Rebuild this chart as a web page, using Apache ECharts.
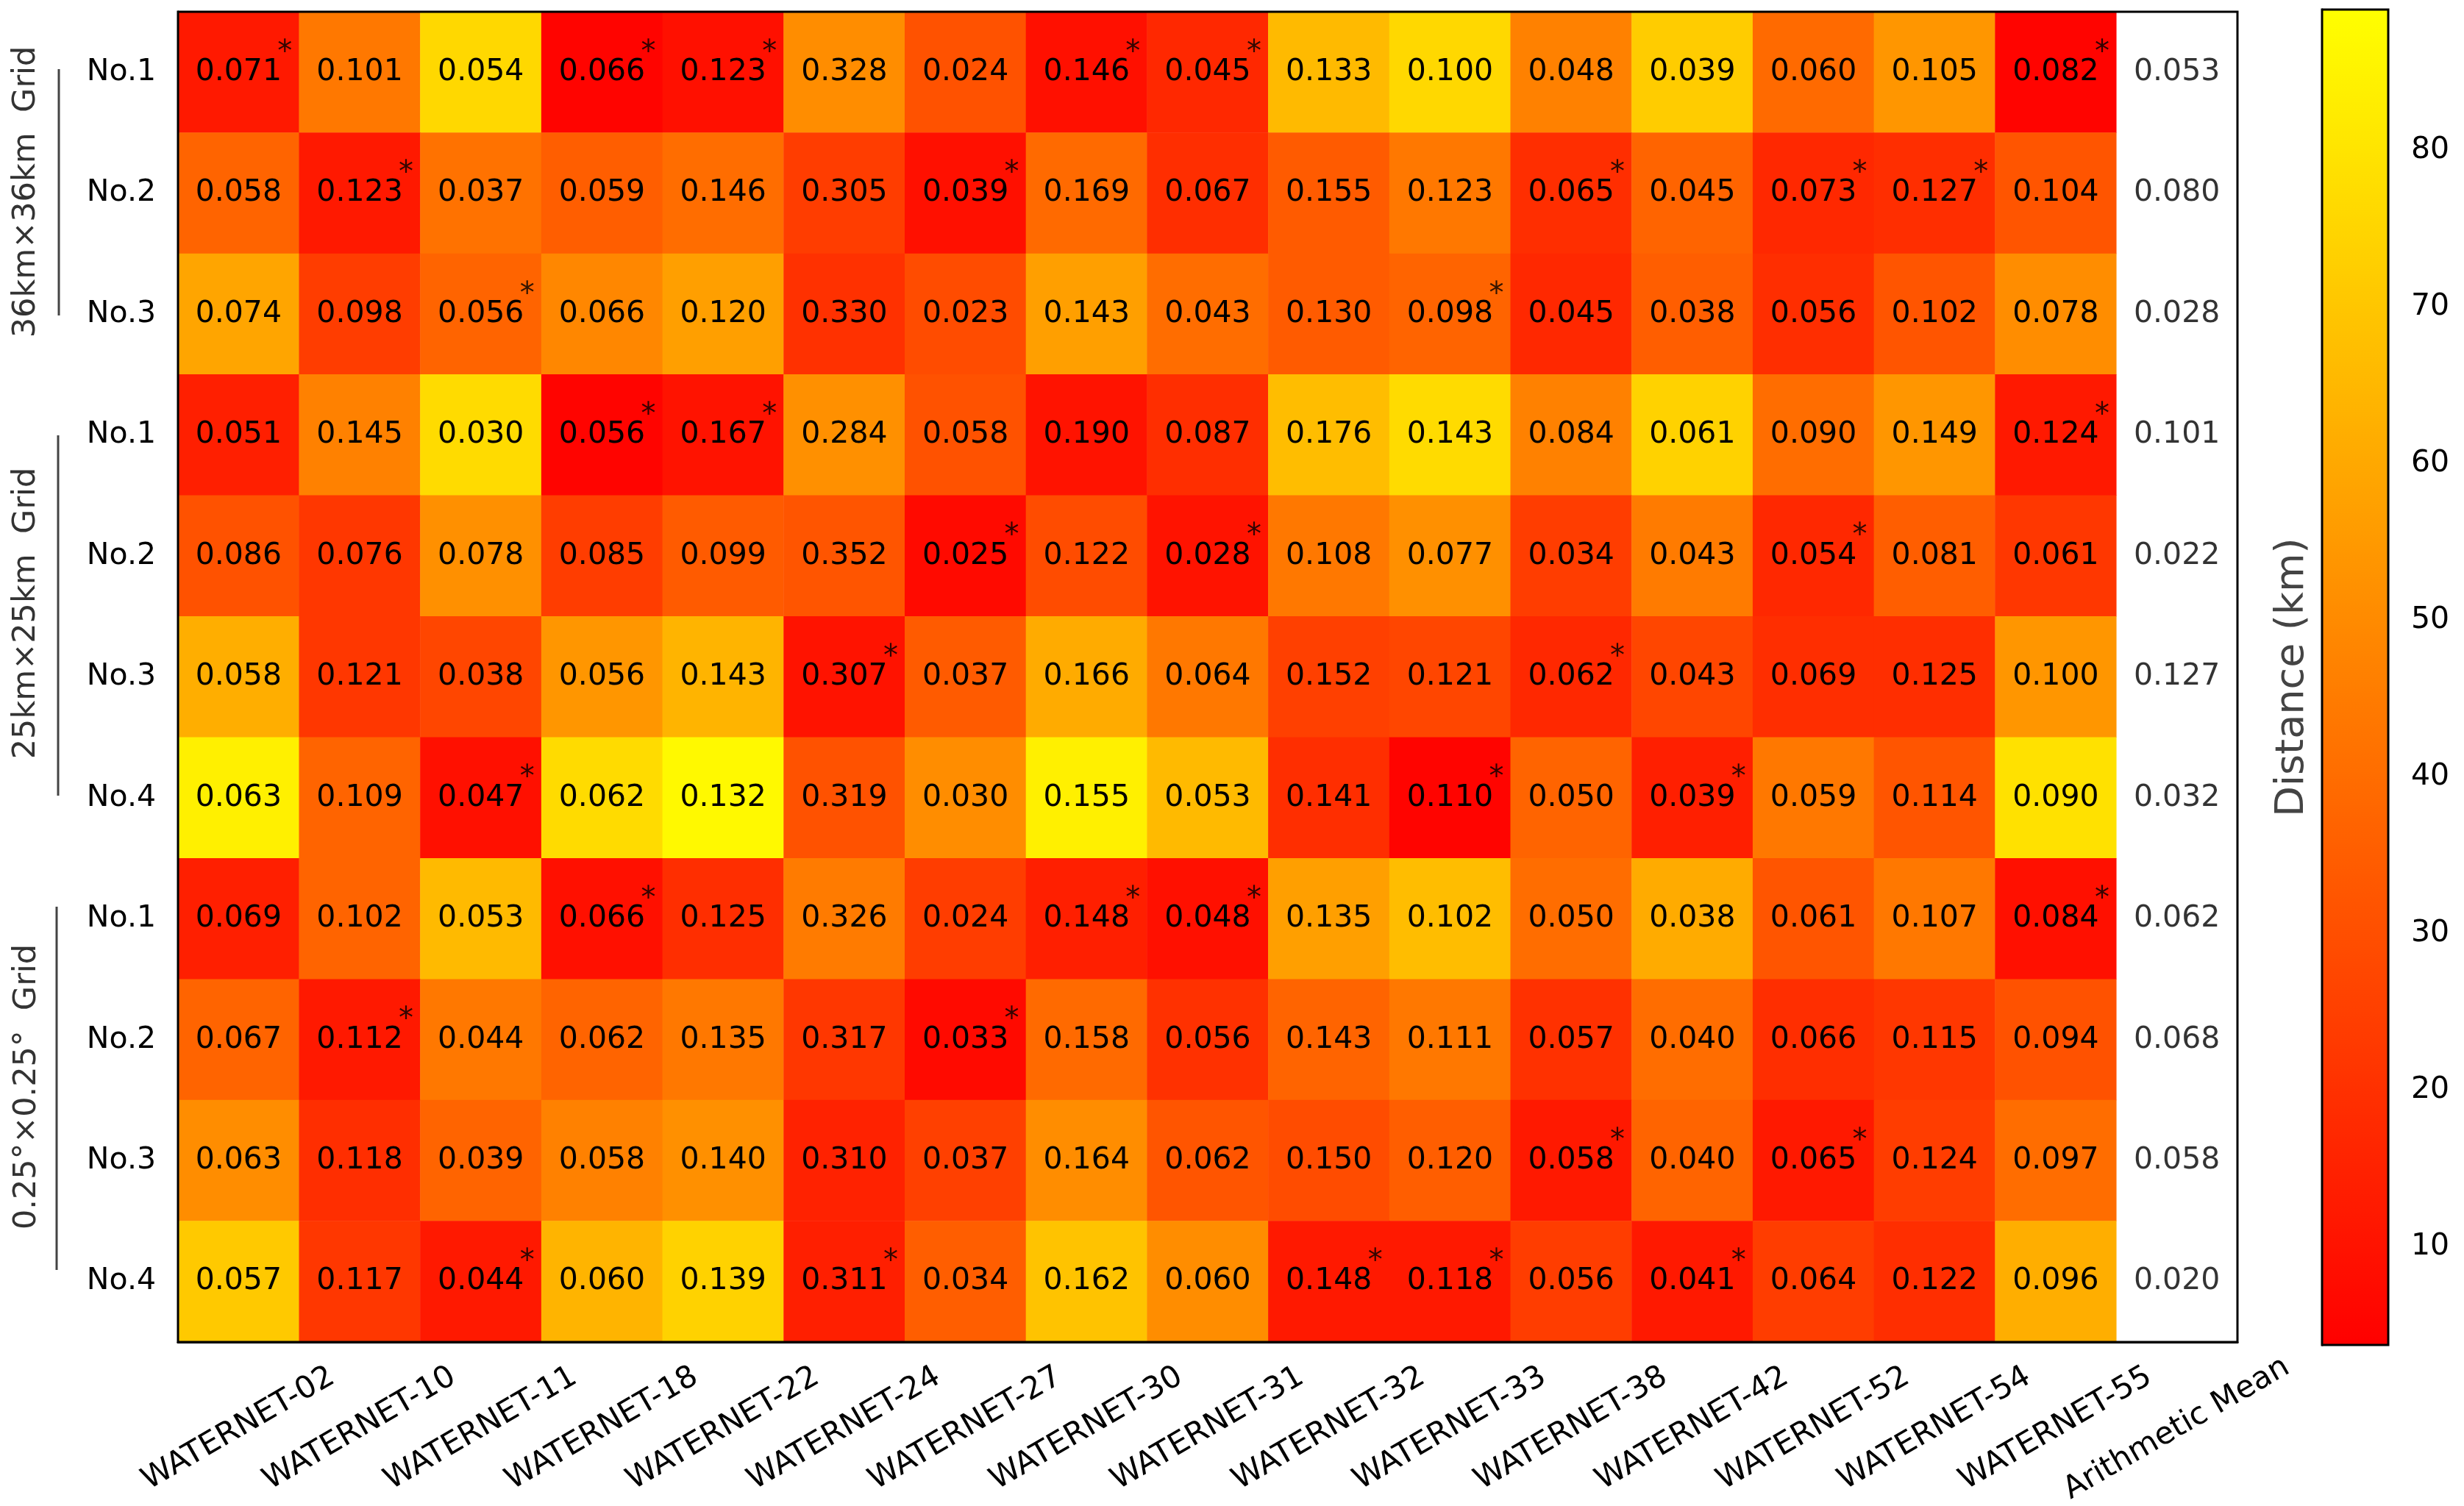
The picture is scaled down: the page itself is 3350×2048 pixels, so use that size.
<!DOCTYPE html>
<html>

<head>
    <title>Distance heatmap</title>
    <script src="https://cdn.jsdelivr.net/npm/echarts@6.0.0/dist/echarts.min.js"></script>
    <style>
        body { margin: 0; background: #fff; }
    </style>
</head>

<body>
    <div id="myChart" style="width: 3350px; height: 2048px;"></div>

    <script>
        // column and row labels
        const xLabels = ['WATERNET-02', 'WATERNET-10', 'WATERNET-11', 'WATERNET-18', 'WATERNET-22', 'WATERNET-24',
            'WATERNET-27', 'WATERNET-30', 'WATERNET-31', 'WATERNET-32', 'WATERNET-33', 'WATERNET-38',
            'WATERNET-42', 'WATERNET-52', 'WATERNET-54', 'WATERNET-55', 'Arithmetic Mean'];
        const yLabels = ['No.1', 'No.2', 'No.3', 'No.1', 'No.2', 'No.3', 'No.4', 'No.1', 'No.2', 'No.3', 'No.4'];
        const groupLabels = ['36km\u00d736km  Grid', '25km\u00d725km  Grid', '0.25\u00b0\u00d70.25\u00b0  Grid'];
        const colorTicks = [10, 20, 30, 40, 50, 60, 70, 80];

        // distance (km) -> cell colour
        const distance = [
            [12, 44, 76, 5, 9, 51, 31, 9, 17, 66, 76, 47, 72, 39, 54, 5],
            [37, 12, 42, 35, 40, 24, 9, 39, 19, 34, 44, 19, 37, 17, 19, 32],
            [59, 24, 37, 49, 57, 20, 29, 57, 40, 34, 37, 17, 35, 19, 32, 51],
            [14, 47, 77, 5, 10, 52, 31, 10, 19, 67, 77, 47, 74, 40, 54, 12],
            [31, 22, 52, 24, 34, 32, 7, 29, 10, 44, 52, 24, 45, 17, 35, 22],
            [62, 22, 27, 54, 64, 10, 34, 61, 44, 25, 27, 17, 27, 19, 19, 54],
            [84, 37, 9, 77, 87, 31, 51, 84, 66, 19, 5, 37, 14, 44, 32, 79],
            [14, 37, 66, 9, 19, 45, 24, 14, 9, 57, 67, 40, 61, 32, 44, 9],
            [37, 12, 44, 37, 44, 22, 7, 39, 20, 37, 44, 20, 40, 19, 22, 31],
            [51, 19, 37, 47, 52, 15, 25, 51, 32, 29, 35, 12, 37, 12, 24, 40],
            [71, 22, 12, 64, 74, 14, 35, 69, 51, 12, 12, 24, 12, 24, 19, 62]
        ];

        // numbers printed in the cells (last one = arithmetic mean column)
        const scores = [
            ['0.071', '0.101', '0.054', '0.066', '0.123', '0.328', '0.024', '0.146', '0.045', '0.133', '0.100', '0.048', '0.039', '0.060', '0.105', '0.082', '0.053'],
            ['0.058', '0.123', '0.037', '0.059', '0.146', '0.305', '0.039', '0.169', '0.067', '0.155', '0.123', '0.065', '0.045', '0.073', '0.127', '0.104', '0.080'],
            ['0.074', '0.098', '0.056', '0.066', '0.120', '0.330', '0.023', '0.143', '0.043', '0.130', '0.098', '0.045', '0.038', '0.056', '0.102', '0.078', '0.028'],
            ['0.051', '0.145', '0.030', '0.056', '0.167', '0.284', '0.058', '0.190', '0.087', '0.176', '0.143', '0.084', '0.061', '0.090', '0.149', '0.124', '0.101'],
            ['0.086', '0.076', '0.078', '0.085', '0.099', '0.352', '0.025', '0.122', '0.028', '0.108', '0.077', '0.034', '0.043', '0.054', '0.081', '0.061', '0.022'],
            ['0.058', '0.121', '0.038', '0.056', '0.143', '0.307', '0.037', '0.166', '0.064', '0.152', '0.121', '0.062', '0.043', '0.069', '0.125', '0.100', '0.127'],
            ['0.063', '0.109', '0.047', '0.062', '0.132', '0.319', '0.030', '0.155', '0.053', '0.141', '0.110', '0.050', '0.039', '0.059', '0.114', '0.090', '0.032'],
            ['0.069', '0.102', '0.053', '0.066', '0.125', '0.326', '0.024', '0.148', '0.048', '0.135', '0.102', '0.050', '0.038', '0.061', '0.107', '0.084', '0.062'],
            ['0.067', '0.112', '0.044', '0.062', '0.135', '0.317', '0.033', '0.158', '0.056', '0.143', '0.111', '0.057', '0.040', '0.066', '0.115', '0.094', '0.068'],
            ['0.063', '0.118', '0.039', '0.058', '0.140', '0.310', '0.037', '0.164', '0.062', '0.150', '0.120', '0.058', '0.040', '0.065', '0.124', '0.097', '0.058'],
            ['0.057', '0.117', '0.044', '0.060', '0.139', '0.311', '0.034', '0.162', '0.060', '0.148', '0.118', '0.056', '0.041', '0.064', '0.122', '0.096', '0.020']
        ];

        // cells marked with an asterisk: [row, column]
        const starCells = [
            [0, 0], [0, 3], [0, 4], [0, 7], [0, 8], [0, 15],
            [1, 1], [1, 6], [1, 11], [1, 13], [1, 14],
            [2, 2], [2, 10],
            [3, 3], [3, 4], [3, 15],
            [4, 6], [4, 8], [4, 13],
            [5, 5], [5, 11],
            [6, 2], [6, 10], [6, 12],
            [7, 3], [7, 7], [7, 8], [7, 15],
            [8, 1], [8, 6],
            [9, 11], [9, 13],
            [10, 2], [10, 5], [10, 9], [10, 10], [10, 12]
        ];

        const FONT = 'DejaVu Sans';
        const heatData = [];
        distance.forEach((row, r) => row.forEach((v, c) => heatData.push([c, r, v])));
        const meanData = scores.map((row, r) => [16, r]);
        const starData = starCells.map(s => [s[1], s[0]]);

        const myChart = echarts.init(document.getElementById('myChart'));

        const option = {
            animation: false,
            backgroundColor: '#fff',
            textStyle: { fontFamily: FONT },
            grid: [
                { left: 242, top: 16, width: 2800, height: 1809, containLabel: false, outerBoundsMode: 'none' },
                { left: 3157, top: 13, width: 90, height: 1816, containLabel: false, outerBoundsMode: 'none' }
            ],
            xAxis: [
                {
                    type: 'category',
                    data: xLabels,
                    gridIndex: 0,
                    axisLine: { lineStyle: { color: '#000', width: 3 } },
                    axisTick: { alignWithLabel: true, length: 13, lineStyle: { color: '#000', width: 2.5 } },
                    axisLabel: {
                        interval: 0, rotate: 30, align: 'center', verticalAlign: 'middle',
                        margin: 118, fontSize: 42, color: '#000', fontFamily: FONT
                    },
                    splitLine: { show: false }
                },
                { type: 'value', gridIndex: 1, show: false, min: 0, max: 1 }
            ],
            yAxis: [
                {
                    type: 'category',
                    data: yLabels,
                    gridIndex: 0,
                    inverse: true,
                    axisLine: { lineStyle: { color: '#000', width: 3 } },
                    axisTick: { alignWithLabel: true, length: 13, lineStyle: { color: '#000', width: 2.5 } },
                    axisLabel: { interval: 0, margin: 30, fontSize: 41, color: '#000', fontFamily: FONT },
                    splitLine: { show: false }
                },
                {
                    type: 'value',
                    gridIndex: 1,
                    position: 'right',
                    min: 3.7,
                    max: 89,
                    axisLine: { show: true, lineStyle: { color: '#000', width: 3 } },
                    axisTick: { show: true, customValues: colorTicks, length: 13, lineStyle: { color: '#000', width: 2.5 } },
                    axisLabel: { show: true, customValues: colorTicks, margin: 31, fontSize: 41, color: '#000', fontFamily: FONT },
                    splitLine: { show: false }
                }
            ],
            visualMap: {
                type: 'continuous',
                seriesIndex: 0,
                min: 3.7,
                max: 89,
                calculable: false,
                showLabel: false,
                text: null,
                orient: 'vertical',
                left: 3157,
                top: 13,
                padding: 0,
                itemWidth: 90,
                itemHeight: 1816,
                inRange: { color: ['#ff0000', '#ffff00'] }
            },
            series: [
                {
                    type: 'heatmap',
                    data: heatData,
                    silent: true,
                    label: {
                        show: true,
                        fontSize: 41,
                        color: '#000',
                        fontFamily: FONT,
                        formatter: p => scores[p.value[1]][p.value[0]]
                    }
                },
                {
                    type: 'scatter',
                    data: meanData,
                    silent: true,
                    symbolSize: 1,
                    itemStyle: { color: 'rgba(0,0,0,0)' },
                    label: {
                        show: true, position: 'inside', fontSize: 41, color: '#000', fontFamily: FONT,
                        formatter: p => scores[p.value[1]][16]
                    }
                },
                {
                    type: 'scatter',
                    data: starData,
                    silent: true,
                    z: 5,
                    symbolSize: 1,
                    itemStyle: { color: 'rgba(0,0,0,0)' },
                    label: {
                        show: true, position: 'inside', fontSize: 40, color: '#000', fontFamily: FONT,
                        offset: [63, -26], formatter: '*'
                    }
                }
            ],
            graphic: [
                // plot frame and colorbar frame
                { type: 'rect', z: 100, shape: { x: 242, y: 16, width: 2800, height: 1809 }, style: { fill: 'none', stroke: '#000', lineWidth: 3 } },
                { type: 'rect', z: 100, shape: { x: 3157, y: 13, width: 90, height: 1816 }, style: { fill: 'none', stroke: '#000', lineWidth: 3 } },
                // group brackets
                { type: 'line', shape: { x1: 80, y1: 94, x2: 80, y2: 429 }, style: { stroke: '#444', lineWidth: 3 } },
                { type: 'line', shape: { x1: 79, y1: 592, x2: 79, y2: 1082 }, style: { stroke: '#444', lineWidth: 3 } },
                { type: 'line', shape: { x1: 77, y1: 1233, x2: 77, y2: 1727 }, style: { stroke: '#444', lineWidth: 3 } },
                { type: 'text', x: 36, y: 261, rotation: Math.PI / 2, style: { text: groupLabels[0], fontSize: 43, fontFamily: FONT, fill: '#333', align: 'center', verticalAlign: 'middle' } },
                { type: 'text', x: 36, y: 834, rotation: Math.PI / 2, style: { text: groupLabels[1], fontSize: 43, fontFamily: FONT, fill: '#333', align: 'center', verticalAlign: 'middle' } },
                { type: 'text', x: 37, y: 1478, rotation: Math.PI / 2, style: { text: groupLabels[2], fontSize: 43, fontFamily: FONT, fill: '#333', align: 'center', verticalAlign: 'middle' } },
                // colorbar title
                { type: 'text', x: 3117, y: 921, rotation: Math.PI / 2, style: { text: 'Distance (km)', fontSize: 54, fontFamily: FONT, fill: '#444', align: 'center', verticalAlign: 'middle' } }
            ]
        };

        myChart.setOption(option);
    </script>
</body>

</html>
